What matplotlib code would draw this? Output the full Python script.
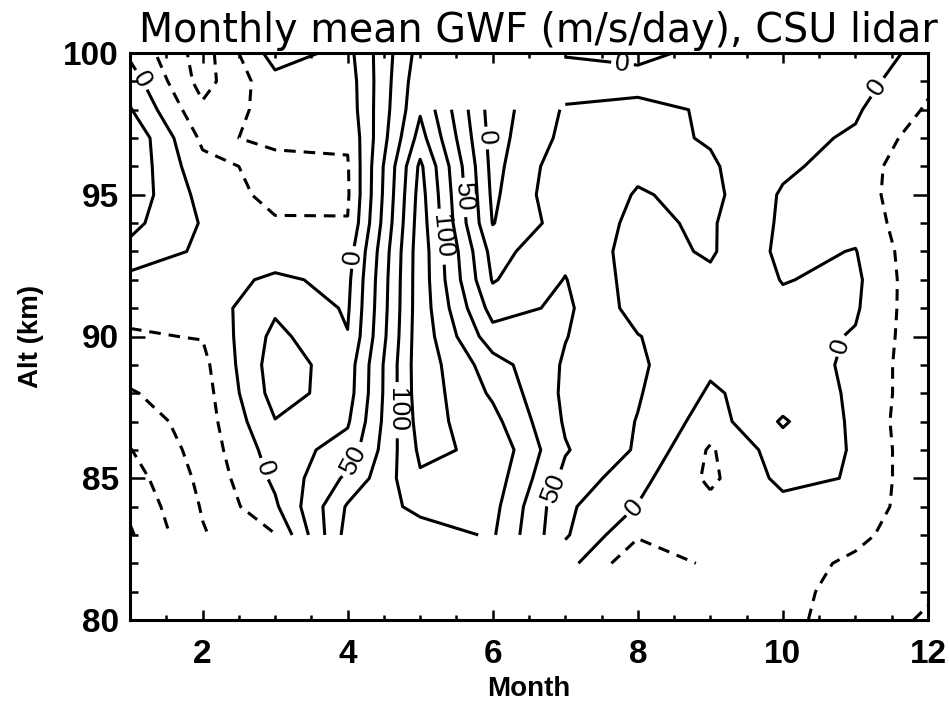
import numpy as np
import matplotlib.pyplot as plt

# grid of the lidar climatology: month x altitude (km)
months = [1, 2, 3, 4, 5, 6, 7, 8, 9, 10, 11, 12]
altitudes = list(range(80, 101))
nan = np.nan

# GWF (m/s/day) per month, altitude 80 -> 100 km (nan = no data)
gwf_jan = [nan, nan, nan, -103, -95, -86, -76, -64, -52, -40, -27, -20, -8, 18, 32, 41, 44, 46, 27, 13, -5]
gwf_feb = [nan, nan, nan, -52, -48, -44, -40, -38, -36, -32, -24, -15, -10, -5, -2, -8, -18, -30, -45, -60, -62]
gwf_mar = [nan, nan, nan, -26, -4, 5, 12, 24, 35, 38, 32, 21, 4, -12, -22, -33, -32, -20, -14, -8, 12]
gwf_apr = [nan, nan, nan, 85, 78, 55, 35, 22, 14, 12, 1, -3, -6, -12, -24, -28, -27, -22, -15, -13, -8]
gwf_may = [nan, nan, nan, 88, 107, 122, 130, 136, 140, 141, 141, 140, 140, 140, 138, 135, 130, 110, 97, 92, 85]
gwf_jun = [nan, nan, nan, 103, 108, 114, 120, 108, 96, 86, 60, 40, 23, 16, -1, -5, -8, -10, -12, nan, nan]
gwf_jul = [nan, nan, 10, 28, 30, 43, 52, 47, 45, 47, 51, 55, 51, 44, 37, 45, 42, 32, 28, 12, -2]
gwf_aug = [nan, nan, -45, -22, -1, 8, 22, 24, 27, 29, 26, 15, 14, 15, 21, 23, 30, 32, 32, 16, -12]
gwf_sep = [nan, nan, -20, -22, -18, -30, -28, -12, -3, 4, 7, 10, 20, 28, 28, 32, 28, 23, 22, 15, 13]
gwf_oct = [-18, -16, -12, -10, -8, 7, 14, 28, 12, 10, 10, 5, -1, -6, -4, -3, 5, 7, 10, 12, 12]
gwf_nov = [-38, -36, -31, -17, -6, -2, -2, -5, -3, -4, -2, 3, 5, 1, -8, -13, -12, -3, 3, 11, 14]
gwf_dec = [-53, -47, -46, -47, -46, -47, -47, -47, -46, -45, -44, -46, -47, -47, -47, -47, -46, -40, -28, -20, -8]

plain_levels = [-100, -75, -50, -25, 25, 75, 125]
label_levels = [0, 50, 100]
# where the contour labels sit (month, km)
label_spots = [(1.25, 99.2), (4.03, 92.8), (5.92, 97.0), (7.79, 99.65), (11.24, 98.9),
               (10.76, 89.7), (7.92, 84.05), (2.93, 85.4), (4.0, 85.75), (5.58, 94.9),
               (6.9, 84.6), (4.68, 87.4), (5.23, 93.5)]

gwf = np.ma.masked_invalid(np.array([gwf_jan, gwf_feb, gwf_mar, gwf_apr, gwf_may, gwf_jun,
                                     gwf_jul, gwf_aug, gwf_sep, gwf_oct, gwf_nov, gwf_dec]).T)

fig = plt.figure(figsize=(9.49, 7.05), dpi=100)
ax = fig.add_axes([130 / 949, 1 - 620 / 705, 798 / 949, 567 / 705])

styles = [(0, (3.8, 2.6)) if lv < 0 else 'solid' for lv in plain_levels]
ax.contour(months, altitudes, gwf, levels=plain_levels, colors='k',
           linewidths=2.2, linestyles=styles, corner_mask=False)
cs = ax.contour(months, altitudes, gwf, levels=label_levels, colors='k',
                linewidths=2.2, linestyles='solid', corner_mask=False)
lbls = ax.clabel(cs, manual=label_spots, inline=True, fmt='%d', fontsize=19, inline_spacing=3)
for t in lbls:
    t.set_family('Liberation Sans')

ax.set_xlim(1, 12)
ax.set_ylim(80, 100)
ax.set_xticks([2, 4, 6, 8, 10, 12])
ax.set_xticks(np.arange(1, 12.01, 0.5), minor=True)
ax.set_yticks([80, 85, 90, 95, 100])
ax.set_yticks(range(80, 101), minor=True)
ax.tick_params(which='both', direction='in', top=True, right=True, width=1.8)
ax.tick_params(axis='x', which='major', length=7, pad=14)
ax.tick_params(axis='x', which='minor', length=3.5)
ax.tick_params(axis='y', which='major', length=11, pad=8)
ax.tick_params(axis='y', which='minor', length=5.5)
for lab in ax.get_xticklabels() + ax.get_yticklabels():
    lab.set_family('Liberation Sans')
    lab.set_fontsize(24)
    lab.set_fontweight('bold')
for side in ax.spines.values():
    side.set_linewidth(2.2)

ax.set_xlabel('Month', family='Liberation Sans', fontsize=20, fontweight='bold', labelpad=4)
ax.set_ylabel('Alt (km)', family='Liberation Sans', fontsize=20, fontweight='bold', labelpad=14)
ax.set_title('Monthly mean GWF (m/s/day), CSU lidar', fontsize=28.5, pad=8, x=0.512)

fig.savefig('out.png', dpi=100)
